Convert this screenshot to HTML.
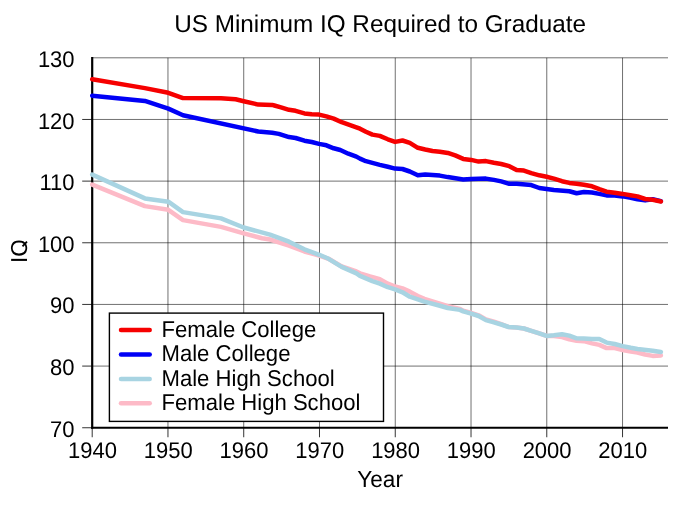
<!DOCTYPE html>
<html><head><meta charset="utf-8"><title>US Minimum IQ Required to Graduate</title>
<style>html,body{margin:0;padding:0;background:#fff;}body{width:685px;height:512px;overflow:hidden;}svg{display:block;will-change:transform;}text{font-family:"Liberation Sans",sans-serif;fill:#000;text-rendering:geometricPrecision;}</style></head><body>
<svg width="685" height="512" viewBox="0 0 685 512">
<rect x="0" y="0" width="685" height="512" fill="#ffffff"/>
<g stroke="#000" stroke-opacity="0.56" stroke-width="1.0" fill="none">
<line x1="167.96" y1="57.80" x2="167.96" y2="427.75"/>
<line x1="243.73" y1="57.80" x2="243.73" y2="427.75"/>
<line x1="319.49" y1="57.80" x2="319.49" y2="427.75"/>
<line x1="395.25" y1="57.80" x2="395.25" y2="427.75"/>
<line x1="471.02" y1="57.80" x2="471.02" y2="427.75"/>
<line x1="546.78" y1="57.80" x2="546.78" y2="427.75"/>
<line x1="622.54" y1="57.80" x2="622.54" y2="427.75"/>
<line x1="92.20" y1="366.09" x2="668.00" y2="366.09"/>
<line x1="92.20" y1="304.43" x2="668.00" y2="304.43"/>
<line x1="92.20" y1="242.77" x2="668.00" y2="242.77"/>
<line x1="92.20" y1="181.12" x2="668.00" y2="181.12"/>
<line x1="92.20" y1="119.46" x2="668.00" y2="119.46"/>
<line x1="92.20" y1="57.80" x2="668.00" y2="57.80"/>
</g>
<g stroke="#000" stroke-opacity="0.8" stroke-width="1" fill="none">
<line x1="92.20" y1="427.75" x2="92.20" y2="437.25"/>
<line x1="167.96" y1="427.75" x2="167.96" y2="437.25"/>
<line x1="243.73" y1="427.75" x2="243.73" y2="437.25"/>
<line x1="319.49" y1="427.75" x2="319.49" y2="437.25"/>
<line x1="395.25" y1="427.75" x2="395.25" y2="437.25"/>
<line x1="471.02" y1="427.75" x2="471.02" y2="437.25"/>
<line x1="546.78" y1="427.75" x2="546.78" y2="437.25"/>
<line x1="622.54" y1="427.75" x2="622.54" y2="437.25"/>
<line x1="82.20" y1="427.75" x2="92.20" y2="427.75"/>
<line x1="82.20" y1="366.09" x2="92.20" y2="366.09"/>
<line x1="82.20" y1="304.43" x2="92.20" y2="304.43"/>
<line x1="82.20" y1="242.77" x2="92.20" y2="242.77"/>
<line x1="82.20" y1="181.12" x2="92.20" y2="181.12"/>
<line x1="82.20" y1="119.46" x2="92.20" y2="119.46"/>
</g>
<line x1="92.20" y1="57.00" x2="92.20" y2="428.75" stroke="#000" stroke-width="2.2"/>
<line x1="91.10" y1="427.75" x2="668.00" y2="427.75" stroke="#000" stroke-width="2.2"/>
<polyline points="92.2,184.6 144.9,206.1 168.3,209.8 183.0,220.1 221.0,226.9 243.7,233.4 262.0,238.2 270.0,239.5 289.0,245.6 304.4,251.5 319.3,255.6 328.6,258.8 341.7,266.5 356.4,271.5 360.0,273.3 370.0,276.4 379.8,279.2 387.8,283.6 395.1,286.5 402.5,288.4 409.8,291.6 417.8,296.0 424.4,298.9 439.0,303.3 447.8,306.2 460.0,308.9 463.2,310.7 471.2,313.0 478.6,315.3 485.9,319.4 493.9,321.7 501.2,324.2 508.6,327.0 516.6,327.5 523.9,328.5 531.3,330.8 539.3,333.3 546.6,335.9 553.9,335.9 562.0,337.1 569.3,339.3 576.6,340.7 583.9,341.2 592.0,343.4 599.3,344.9 606.6,348.1 614.7,348.0 622.7,350.0 630.8,351.6 637.5,352.5 645.1,354.5 652.7,355.9 660.9,355.4" fill="none" stroke="#fdbac7" stroke-width="4.5" stroke-linecap="round" stroke-linejoin="round"/>
<polyline points="92.2,174.6 144.9,198.4 168.3,201.7 183.0,212.1 221.0,218.4 243.7,227.5 270.0,234.6 289.0,241.7 304.4,249.3 319.3,254.8 328.6,258.8 341.7,266.9 356.4,273.4 360.0,275.9 372.4,281.1 379.8,283.6 387.8,287.2 395.1,289.4 402.5,292.3 409.8,296.7 424.4,301.6 439.0,305.5 447.8,308.0 460.0,309.9 463.2,311.4 471.2,313.6 478.6,316.0 485.9,320.1 493.9,322.3 501.2,324.5 508.6,327.0 516.6,327.5 523.9,328.5 531.3,330.8 539.3,333.3 546.6,335.9 553.9,335.2 562.0,334.2 569.3,335.6 576.6,338.3 583.9,338.6 592.0,339.0 599.3,339.0 606.6,342.6 614.7,344.0 622.7,346.1 630.8,347.8 637.5,349.0 652.7,350.7 660.9,351.9" fill="none" stroke="#a8d4e2" stroke-width="4.5" stroke-linecap="round" stroke-linejoin="round"/>
<polyline points="92.2,95.7 144.9,100.9 168.3,108.6 183.0,115.3 258.3,131.5 272.2,132.7 278.8,133.9 289.0,137.1 295.6,138.0 304.4,140.7 311.7,142.0 319.0,143.9 326.4,145.3 333.7,148.3 340.3,150.0 348.3,153.7 356.4,156.6 360.0,158.6 365.9,161.2 379.8,164.9 387.8,166.8 395.1,168.6 402.5,169.0 409.8,171.5 417.8,175.2 425.2,174.4 439.8,175.6 447.8,177.1 463.2,179.4 471.2,178.9 485.9,178.6 493.9,179.9 501.2,181.4 509.3,183.8 516.6,183.8 531.3,185.1 539.3,188.0 553.9,190.0 569.3,191.3 576.6,193.2 583.9,192.0 592.0,192.5 599.3,193.9 606.6,195.4 614.7,195.4 622.7,196.4 630.8,197.7 637.5,199.2 645.1,200.4 652.7,199.2 660.9,201.1" fill="none" stroke="#0000f6" stroke-width="4.5" stroke-linecap="round" stroke-linejoin="round"/>
<polyline points="92.2,79.2 144.9,88.1 168.3,92.8 183.0,98.1 221.0,98.2 235.6,99.3 243.7,101.2 258.3,104.6 272.2,104.9 274.4,105.5 281.0,107.3 289.0,109.8 295.6,110.8 304.4,113.4 311.7,114.2 319.0,114.6 326.4,116.4 333.7,118.6 341.7,122.2 356.4,127.3 360.0,128.7 365.9,131.7 372.4,134.6 379.8,135.9 387.8,139.3 395.1,141.9 402.5,140.5 409.8,142.9 417.8,147.8 425.2,149.5 432.5,151.0 439.8,151.7 447.8,152.9 455.2,155.4 463.2,158.9 471.2,159.9 478.6,161.6 485.9,161.1 493.9,162.8 501.2,164.0 509.3,166.2 516.6,170.1 523.9,170.6 531.3,173.1 539.3,175.3 546.6,176.8 553.9,178.6 562.0,181.2 569.3,182.9 576.6,183.7 583.9,184.8 592.0,186.3 599.3,189.2 606.6,191.7 614.7,192.8 622.7,193.9 630.4,195.2 637.5,196.4 645.1,199.0 652.7,199.8 660.9,201.5" fill="none" stroke="#f60000" stroke-width="4.5" stroke-linecap="round" stroke-linejoin="round"/>
<rect x="109.4" y="313.1" width="274.1" height="108.3" fill="#fff" stroke="#000" stroke-width="1.4"/>
<line x1="121.0" y1="329.9" x2="149.7" y2="329.9" stroke="#f60000" stroke-width="4.5" stroke-linecap="round"/>
<text transform="translate(161.5,336.6) scale(1,1.03)" font-size="22.1">Female College</text>
<line x1="121.0" y1="354.5" x2="149.7" y2="354.5" stroke="#0000f6" stroke-width="4.5" stroke-linecap="round"/>
<text transform="translate(161.5,361.2) scale(1,1.03)" font-size="22.1">Male College</text>
<line x1="121.0" y1="378.9" x2="149.7" y2="378.9" stroke="#a8d4e2" stroke-width="4.5" stroke-linecap="round"/>
<text transform="translate(161.5,385.6) scale(1,1.03)" font-size="22.1">Male High School</text>
<line x1="121.0" y1="403.3" x2="149.7" y2="403.3" stroke="#fdbac7" stroke-width="4.5" stroke-linecap="round"/>
<text transform="translate(161.5,410.0) scale(1,1.03)" font-size="22.1">Female High School</text>
<text x="380.1" y="32.3" font-size="24.3" text-anchor="middle">US Minimum IQ Required to Graduate</text>
<text transform="translate(380.1,486.6) scale(1,1.03)" font-size="22.6" text-anchor="middle">Year</text>
<text transform="translate(26.8,251.2) rotate(-90) scale(1,1.03)" font-size="22.4" text-anchor="middle">IO</text>
<line x1="22.5" y1="246.4" x2="27.0" y2="241.7" stroke="#000" stroke-width="1.8"/>
<text transform="translate(92.5,458.3) scale(1,1.03)" font-size="22" text-anchor="middle">1940</text>
<text transform="translate(168.3,458.3) scale(1,1.03)" font-size="22" text-anchor="middle">1950</text>
<text transform="translate(244.0,458.3) scale(1,1.03)" font-size="22" text-anchor="middle">1960</text>
<text transform="translate(319.8,458.3) scale(1,1.03)" font-size="22" text-anchor="middle">1970</text>
<text transform="translate(395.6,458.3) scale(1,1.03)" font-size="22" text-anchor="middle">1980</text>
<text transform="translate(471.3,458.3) scale(1,1.03)" font-size="22" text-anchor="middle">1990</text>
<text transform="translate(547.1,458.3) scale(1,1.03)" font-size="22" text-anchor="middle">2000</text>
<text transform="translate(622.8,458.3) scale(1,1.03)" font-size="22" text-anchor="middle">2010</text>
<text transform="translate(74.6,436.8) scale(1,1.03)" font-size="22" text-anchor="end">70</text>
<text transform="translate(74.6,375.1) scale(1,1.03)" font-size="22" text-anchor="end">80</text>
<text transform="translate(74.6,313.4) scale(1,1.03)" font-size="22" text-anchor="end">90</text>
<text transform="translate(74.6,251.8) scale(1,1.03)" font-size="22" text-anchor="end">100</text>
<text transform="translate(74.6,190.1) scale(1,1.03)" font-size="22" text-anchor="end">110</text>
<text transform="translate(74.6,128.5) scale(1,1.03)" font-size="22" text-anchor="end">120</text>
<text transform="translate(74.6,66.8) scale(1,1.03)" font-size="22" text-anchor="end">130</text>
</svg></body></html>
